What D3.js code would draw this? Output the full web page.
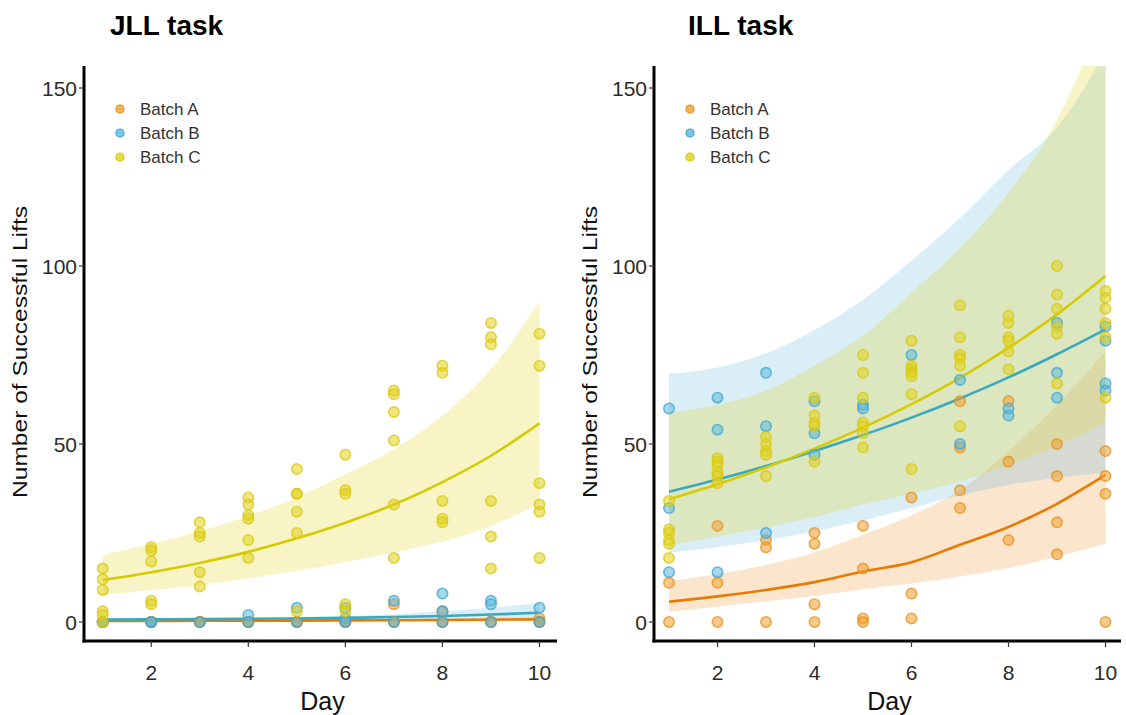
<!DOCTYPE html>
<html><head><meta charset="utf-8">
<script src="https://cdn.jsdelivr.net/npm/d3@7"></script>
<style>
body{margin:0;background:#fff;}
text{font-family:"Liberation Sans",Arial,sans-serif;}
</style></head>
<body>
<svg id="chart" width="1126" height="715"></svg>
<script>
// ---------- DATA ----------
const days = [1,2,3,4,5,6,7,8,9,10];
const batches = ["Batch A","Batch B","Batch C"];
const xTicks = [2,4,6,8,10];
const yTicks = [0,50,100,150];
const panelTitles = ["JLL task","ILL task"];

// JLL observed points (per day)
const jllA = [[0,0,0,0],[0,0,0,0],[0,0,0],[0,0,0],[0,0,0],[0,0,0],[5,0,0],[3,0,0],[0,0],[1,0,0]];
const jllB = [[0,0],[0,0],[0],[2,0],[4,0],[4,1,0],[6,0],[8,3,0],[6,5,0],[4,0]];
const jllC = [[15,12,9,3,2,0],[21,20,17,6,5],[28,25,24,14,10],[35,33,30,29,23,18],[43,36,36,31,25,3],
              [47,37,36,5,3],[65,64,59,51,33,18],[72,70,34,29,28],[84,80,78,34,24,15],[81,72,39,33,31,18]];
// JLL fitted curves and 95% bands
const jllFitA = [0.3,0.3,0.35,0.35,0.4,0.45,0.5,0.55,0.65,0.75];
const jllLoA  = [0.1,0.1,0.15,0.15,0.2,0.2,0.25,0.3,0.3,0.35];
const jllHiA  = [0.5,0.55,0.6,0.65,0.7,0.8,0.9,1.0,1.2,1.5];
const jllFitB = [0.7,0.75,0.8,0.9,1.0,1.15,1.4,1.7,2.1,2.6];
const jllLoB  = [0.4,0.45,0.5,0.55,0.6,0.7,0.8,0.9,1.0,1.1];
const jllHiB  = [0.9,1.0,1.1,1.2,1.4,1.7,2.2,3.0,4.0,5.4];
const jllFitC = [11.8,14,16.6,19.7,23.5,27.9,33,39.3,46.7,55.8];
const jllLoC  = [7.6,8.9,10.4,12.2,14.4,16.8,19.5,22.6,27,33.3];
const jllHiC  = [18.8,22,25.5,29.8,35,41.5,48.5,58,71,90];

// ILL observed points (per day)
const illA = [[11,0],[27,11,0],[23,21,0],[25,22,5,0],[27,15,1,0],[35,8,1],[62,49,37,32],[62,45,23],[50,41,28,19],[48,41,36,0]];
const illB = [[60,32,14],[63,54,14],[70,55,25],[62,53,47],[61,60],[75],[68,50],[60,58],[84,70,63],[83,79,67,65]];
const illC = [[34,26,25,23,22,18],[46,45,44,42,41,39],[52,50,48,47,41],[63,58,56,55,45],[75,70,63,56,55,53,49],
              [79,72,71,70,69,64,43],[89,80,75,74,72,55],[86,84,80,79,76,71],[100,92,88,83,81,67],[93,91,88,84,80,63]];
// ILL fitted curves and 95% bands
const illFitA = [5.7,7.2,9,11.2,14.2,16.8,21.7,26.7,33.2,41.3];
const illLoA  = [2.9,4.3,5.8,7.3,9.2,10.8,12.8,15.2,18.3,22];
const illHiA  = [11.5,13.5,16,19.5,24.5,30,37,48,61,76];
const illFitB = [36.6,40,43.8,48,52.5,57.4,62.8,68.7,75.2,82.2];
const illLoB  = [19.5,21,23,25.5,28.5,32,35.5,38.5,40.5,42];
const illHiB  = [69.7,71.5,75.5,82,90.5,101.5,113.5,127,139,160];
const illFitC = [34.5,38.7,43.4,48.7,54.6,61.2,68.6,77,86.4,97.2];
const illLoC  = [21.5,24,26.5,29.5,33,36,39.5,44,49.5,56];
const illHiC  = [58.7,61,65,72,80.5,92.5,105,120.5,141,172];

// ---------- STYLE ----------
const pointFill = ["#F0A030","#5BB8DC","#E2D21A"];
const pointStroke = ["#E8901C","#3FA6CF","#D8C810"];
const lineColor = ["#E87A00","#3AA9C0","#D6CA00"];
const bandColor = ["#F39A3C","#6EBFE0","#E6D632"];
const bandAlpha = [0.26,0.26,0.28];

const svg = d3.select("#chart");

const panels = [
  {title:panelTitles[0], titleX:110, axisX:84, x0:102.7, x1:539.5, xEnd:557,
   pts:[jllA,jllB,jllC], fit:[jllFitA,jllFitB,jllFitC], lo:[jllLoA,jllLoB,jllLoC], hi:[jllHiA,jllHiB,jllHiC]},
  {title:panelTitles[1], titleX:688, axisX:654, x0:669, x1:1105.5, xEnd:1121,
   pts:[illA,illB,illC], fit:[illFitA,illFitB,illFitC], lo:[illLoA,illLoB,illLoC], hi:[illHiA,illHiB,illHiC]}
];

const yTop = 66, yBot = 641;

panels.forEach((p,pi)=>{
  const x = d3.scaleLinear().domain([1,10]).range([p.x0,p.x1]);
  const y = d3.scaleLinear().domain([0,150]).range([622,88]);
  const g = svg.append("g");

  const clipId = "clip"+pi;
  svg.append("clipPath").attr("id",clipId).append("rect")
    .attr("x",p.axisX+1).attr("y",yTop).attr("width",p.xEnd-p.axisX).attr("height",yBot-yTop);

  const plot = g.append("g").attr("clip-path",`url(#${clipId})`);

  // bands
  [0,1,2].forEach(b=>{
    const area = d3.area().x((d,i)=>x(days[i])).y0((d,i)=>y(p.lo[b][i])).y1((d,i)=>y(p.hi[b][i])).curve(d3.curveMonotoneX);
    plot.append("path").datum(days).attr("d",area)
      .attr("fill",bandColor[b]).attr("fill-opacity",bandAlpha[b]);
  });
  // lines
  [0,1,2].forEach(b=>{
    const line = d3.line().x((d,i)=>x(days[i])).y((d,i)=>y(p.fit[b][i])).curve(d3.curveMonotoneX);
    plot.append("path").datum(days).attr("d",line)
      .attr("fill","none").attr("stroke",lineColor[b]).attr("stroke-width",2.6);
  });
  // points
  [0,1,2].forEach(b=>{
    const flat = [];
    p.pts[b].forEach((vals,i)=>vals.forEach(v=>flat.push({d:days[i],v})));
    plot.selectAll(null).data(flat).enter().append("circle")
      .attr("cx",d=>x(d.d)).attr("cy",d=>y(d.v)).attr("r",5.2)
      .attr("fill",pointFill[b]).attr("fill-opacity",0.55)
      .attr("stroke",pointStroke[b]).attr("stroke-opacity",0.75).attr("stroke-width",1.6);
  });

  // axes lines
  g.append("line").attr("x1",p.axisX).attr("x2",p.axisX).attr("y1",yTop).attr("y2",yBot+1.5)
    .attr("stroke","#000").attr("stroke-width",3);
  g.append("line").attr("x1",p.axisX-1.5).attr("x2",p.xEnd).attr("y1",yBot).attr("y2",yBot)
    .attr("stroke","#000").attr("stroke-width",3);

  // y ticks
  yTicks.forEach(t=>{
    g.append("line").attr("x1",p.axisX-5).attr("x2",p.axisX).attr("y1",y(t)).attr("y2",y(t)).attr("stroke","#333").attr("stroke-width",1.2);
    g.append("text").attr("x",p.axisX-7).attr("y",y(t)).attr("dy","0.36em").attr("text-anchor","end")
      .attr("font-size",21).attr("fill","#2b2b2b").text(t);
  });
  // x ticks
  xTicks.forEach(t=>{
    g.append("line").attr("x1",x(t)).attr("x2",x(t)).attr("y1",yBot).attr("y2",yBot+6).attr("stroke","#333").attr("stroke-width",1.2);
    g.append("text").attr("x",x(t)).attr("y",yBot+39).attr("text-anchor","middle")
      .attr("font-size",21).attr("fill","#2b2b2b").text(t);
  });

  // axis titles
  g.append("text").attr("x",(p.axisX+p.xEnd)/2+2).attr("y",710).attr("text-anchor","middle")
    .attr("font-size",25).attr("fill","#111").text("Day");
  g.append("text").attr("transform",`translate(${p.axisX-57},352) rotate(-90)`).attr("text-anchor","middle")
    .attr("font-size",20).attr("fill","#111")
    .attr("textLength",292).attr("lengthAdjust","spacingAndGlyphs").text("Number of Successful Lifts");

  // panel title
  g.append("text").attr("x",p.titleX).attr("y",35).attr("font-family","'Open Sans',sans-serif")
    .attr("font-weight","bold").attr("font-size",28).attr("fill","#000").text(p.title);

  // legend
  batches.forEach((b,i)=>{
    const ly = 109 + i*24;
    g.append("circle").attr("cx",p.axisX+36).attr("cy",ly).attr("r",4)
      .attr("fill",pointFill[i]).attr("fill-opacity",0.8).attr("stroke",pointStroke[i]).attr("stroke-width",1.2);
    g.append("text").attr("x",p.axisX+56).attr("y",ly).attr("dy","0.36em")
      .attr("font-size",17).attr("fill","#333").text(b);
  });
});
</script>
</body></html>
